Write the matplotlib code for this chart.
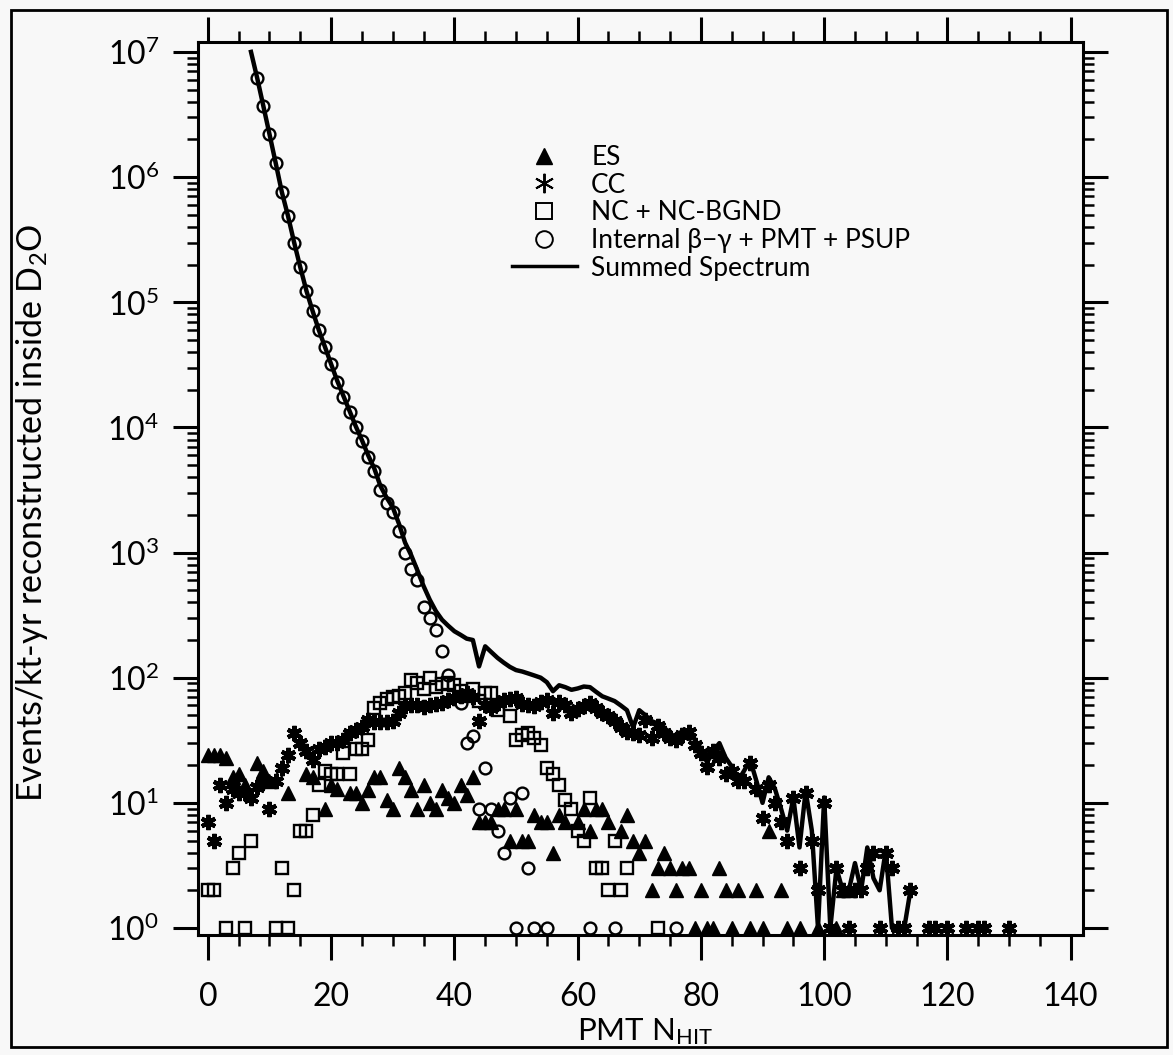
import matplotlib
matplotlib.use('Agg')
import matplotlib.pyplot as plt
from matplotlib.lines import Line2D
from matplotlib.patches import Rectangle
from matplotlib.ticker import MultipleLocator, FixedLocator, NullFormatter, LogFormatterSciNotation

plt.rcParams['font.family'] = ['Lato', 'DejaVu Sans']
plt.rcParams['mathtext.fontset'] = 'custom'
plt.rcParams['mathtext.rm'] = 'Lato'
plt.rcParams['mathtext.it'] = 'Lato:italic'
plt.rcParams['mathtext.bf'] = 'Lato:bold'

# ES (filled triangles)
es_x = [0, 1, 2, 3, 4, 5, 6, 8, 9, 10, 13, 16, 17, 19, 20, 21, 23, 24, 25, 26,
        27, 28, 29, 30, 31, 32, 33, 34, 35, 36, 37, 38, 39, 40, 41, 42, 43, 44, 45, 46,
        47, 48, 49, 50, 51, 52, 53, 54, 55, 56, 57, 58, 60, 61, 62, 63, 64, 65, 67, 68,
        69, 70, 71, 72, 73, 74, 75, 76, 77, 78, 79, 80, 81, 82, 83, 84, 85, 86, 88, 89,
        90, 91, 93, 94, 96, 99, 102, 103, 104]
es_y = [24, 24, 24, 23, 16, 17, 14, 21, 18, 15, 12, 17, 16, 9, 14, 13, 12, 12, 10, 12.6,
        16, 16, 10.5, 9, 19, 16, 12.6, 9, 13.8, 10, 9, 12.6, 11, 10, 14, 11.5, 16, 7, 7, 7,
        9, 9, 5, 9, 5, 5, 8, 7, 7, 4, 8, 7, 7, 9, 6, 9, 9, 7, 6, 8,
        5, 4, 5, 2, 3, 4, 3, 2, 3, 3, 1, 2, 1, 1, 3, 2, 1, 2, 1, 2,
        1, 6, 2, 1, 1, 1, 1, 2, 2]

# CC (asterisks)
cc_x = list(range(0, 115)) + [117, 118, 120, 123, 125, 126, 130]
cc_y = [7, 5, 14, 10, 13, 12, 12, 11, 13.5, 15, 9, 15, 19, 24, 36, 30, 26, 22, 27, 28,
        30, 30, 32, 36, 38, 40, 46, 44, 44, 44, 45, 52, 59, 60, 60, 58, 60, 62, 63, 66,
        69, 72, 75, 70, 45, 60, 57, 63, 66, 68, 69, 62, 60, 59, 64, 66, 52, 64, 60, 52,
        56, 59, 63, 57, 52, 49, 45, 40, 37, 36, 35, 46, 33, 41, 36, 33, 32, 35, 37, 29,
        25, 19.5, 26, 23, 17, 18, 15, 15, 21, 13, 7.5, 14, 10, 7, 5, 11, 3, 12, 5, 2,
        10, 1, 3, 2, 1, 2, 2, 3, 4, 1, 4, 3, 1, 1, 2,
        1, 1, 1, 1, 1, 1, 1]

# NC + NC-BGND (open squares)
nc_x = [0, 1, 3, 4, 5, 6, 7, 11, 12, 13, 14, 15, 16, 17, 18, 19, 20, 21, 22, 23,
        24, 25, 26, 27, 28, 29, 30, 31, 32, 33, 34, 35, 36, 37, 38, 39, 40, 41, 42, 43,
        44, 45, 46, 47, 49, 50, 51, 52, 53, 54, 55, 56, 57, 58, 59, 60, 61, 62, 63, 64,
        65, 66, 67, 68, 73]
nc_y = [2, 2, 1, 3, 4, 1, 5, 1, 3, 1, 2, 6, 6, 8, 14, 18, 17, 17, 25, 17,
        27, 27, 32, 57, 63, 67, 70, 72, 75, 95, 91, 81, 100, 85, 89, 91, 88, 78, 72, 81,
        65, 76, 76, 55, 49, 32, 35, 36, 33, 29, 19, 17, 14, 10.5, 9, 6, 5, 11, 3, 3,
        2, 5, 2, 3, 1]

# Internal beta-gamma + PMT + PSUP (open circles)
bg_x = list(range(8, 40)) + [41, 42, 43, 44, 45, 46, 47, 48, 49, 50, 51, 52, 53, 55, 62, 66, 76]
bg_y = [6.2e6, 3.7e6, 2.2e6, 1.3e6, 7.6e5, 4.9e5, 3.0e5, 1.9e5, 1.23e5, 8.5e4,
        6.0e4, 4.4e4, 3.2e4, 2.3e4, 1.74e4, 1.32e4, 1.0e4, 7800, 5750, 4450,
        3150, 2500, 2100, 1480, 1000, 740, 600, 370, 300, 240, 162, 105,
        63, 30, 34, 9, 19, 9, 6, 4, 11, 1, 12, 3, 1, 1, 1, 1, 1]

# Summed spectrum (line)
sum_x = list(range(7, 115))
sum_y = [1.0e7, 6.2e6, 3.7e6, 2.2e6, 1.3e6, 7.6e5, 4.9e5, 3.0e5, 1.9e5, 1.23e5,
         8.5e4, 6.0e4, 4.4e4, 3.2e4, 2.35e4, 1.78e4, 1.35e4, 1.02e4, 7900, 6000,
         4700, 3400, 2750, 2300, 1700, 1200, 950, 720, 540, 420,
         340, 290, 260, 235, 220, 205, 200, 123, 178, 160,
         144, 132, 122, 115, 112, 108, 104, 100, 92, 78,
         87, 84, 80, 82, 85, 84, 77, 71, 68, 65,
         60, 55, 40, 55, 50, 45, 43, 40, 36, 33,
         38, 37, 32, 27, 21, 26, 30, 23, 19.5, 15,
         18, 22, 15, 10, 16, 13, 9, 6, 11, 4.4,
         12.5, 6, 1, 11, 1, 3, 2, 2, 3.3, 2,
         4.4, 2.5, 2, 4.2, 1, 1, 1, 2]

y_major = [1e0, 1e1, 1e2, 1e3, 1e4, 1e5, 1e6, 1e7]
y_minor = [k * 10.0 ** n for n in range(0, 7) for k in range(2, 10)]

fig = plt.figure(figsize=(11.73, 10.55), dpi=100, facecolor='#f8f8f8')
ax = fig.add_axes([198 / 1173, 1 - 935 / 1055, 885 / 1173, 893 / 1055])
ax.set_facecolor('#f8f8f8')

ax.plot(bg_x, bg_y, 'o', ms=8.5, mfc='none', mec='black', mew=1.7, ls='none', zorder=2)
ax.plot(nc_x, nc_y, 's', ms=8, mfc='none', mec='black', mew=1.7, ls='none', zorder=2)
ax.plot(es_x, es_y, '^', ms=9.5, color='black', ls='none', zorder=2)
ax.plot(cc_x, cc_y, marker=(6, 2, 0), ms=11, color='black', mew=3, ls='none', zorder=2)
ax.plot(sum_x, sum_y, '-', color='black', lw=3.2, zorder=3)

ax.set_yscale('log')
ax.set_xlim(-1.6, 142)
ax.set_ylim(0.879, 1.2e7)

ax.xaxis.set_major_locator(MultipleLocator(20))
ax.xaxis.set_minor_locator(MultipleLocator(5))
ax.yaxis.set_major_locator(FixedLocator(y_major))
ax.yaxis.set_minor_locator(FixedLocator(y_minor))
ax.yaxis.set_major_formatter(LogFormatterSciNotation())
ax.yaxis.set_minor_formatter(NullFormatter())

ax.tick_params(which='major', direction='out', length=18, width=2.2,
               top=True, right=True, labelsize=23)
ax.tick_params(which='minor', direction='out', length=8, width=1.8,
               top=True, right=True)
ax.tick_params(axis='x', which='major', pad=16)
ax.tick_params(axis='y', which='major', pad=10)
for s in ax.spines.values():
    s.set_linewidth(2.2)

fig.text(32 / 1173, 1 - 513 / 1055, r'Events/kt-yr reconstructed inside D$_2$O',
         rotation=90, ha='center', va='center', fontsize=24.5)
fig.text(645 / 1173, 1 - 1040 / 1055, r'PMT N$_{\mathrm{HIT}}$',
         ha='center', va='baseline', fontsize=22.5)

handles = [
    Line2D([], [], marker='^', ls='none', color='black', ms=12),
    Line2D([], [], marker=(6, 2, 0), ls='none', color='black', ms=14, mew=1.4),
    Line2D([], [], marker='s', ls='none', mfc='none', mec='black', ms=11, mew=1.4),
    Line2D([], [], marker='o', ls='none', mfc='none', mec='black', ms=12, mew=1.4),
    Line2D([], [], ls='-', color='black', lw=2.5),
]
labels = ['ES', 'CC', 'NC + NC-BGND', 'Internal β−γ + PMT + PSUP', 'Summed Spectrum']
fig.legend(handles, labels, loc='upper left', bbox_to_anchor=(512 / 1173, 1 - 145 / 1055),
           frameon=False, fontsize=19, handlelength=2.45, handletextpad=0.55,
           labelspacing=0.1, borderpad=0, borderaxespad=0)

fig.add_artist(Rectangle((11 / 1173, 8 / 1055), 1156 / 1173, 1037 / 1055,
                         transform=fig.transFigure, fill=False, lw=2, color='black'))

fig.savefig('out.png', dpi=100, facecolor=fig.get_facecolor())
